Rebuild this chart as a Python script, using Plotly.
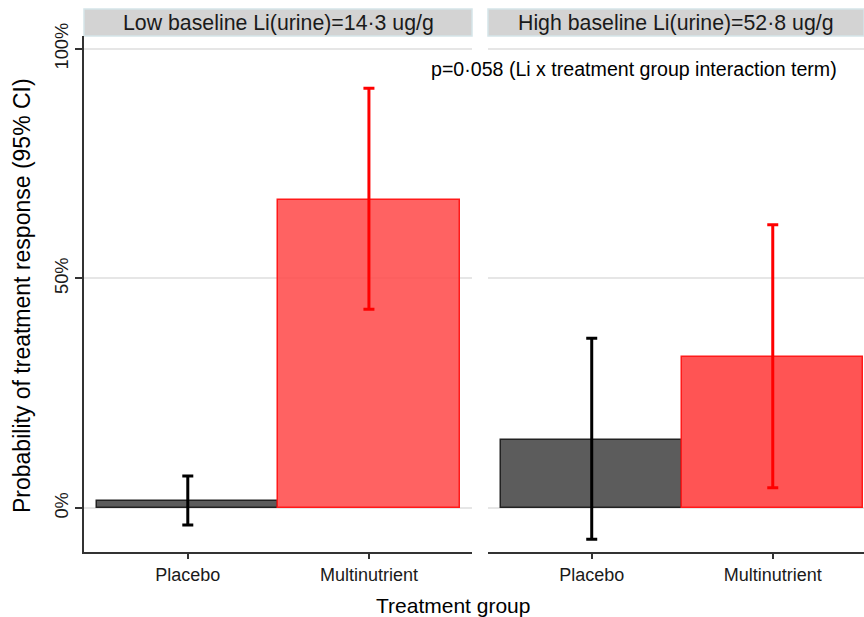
import plotly.graph_objects as go

groups = ["Placebo", "Multinutrient"]
panels = ["Low baseline Li(urine)=14·3 ug/g", "High baseline Li(urine)=52·8 ug/g"]
# probabilities (%) per panel: [placebo, multinutrient]
prob = [[1.5, 67.1], [14.9, 32.9]]
ci_low = [[-3.7, 43.3], [-6.8, 4.4]]
ci_high = [[7.0, 91.4], [37.0, 61.7]]
y_ticks = [0, 50, 100]
y_tick_labels = ["0%", "50%", "100%"]
annotation_text = "p=0·058 (Li x treatment group interaction term)"

fills = [["#5c5c5c", "rgba(255,70,70,0.85)"], ["#5c5c5c", "rgba(255,60,60,0.88)"]]
lines = ["#222222", "#ff1a1a"]
err_cols = ["#000000", "#ff0000"]

FONT = "Liberation Sans, Arial, Helvetica, sans-serif"
W, H = 864, 617

fig = go.Figure()
for p in range(2):
    xa = "x" if p == 0 else "x2"
    for g in range(2):
        v = prob[p][g]
        fig.add_trace(go.Bar(
            x=[groups[g]], y=[v], width=1.0,
            xaxis=xa, yaxis="y" if p == 0 else "y2",
            marker=dict(color=fills[p][g], line=dict(color=lines[g], width=1.5)),
            error_y=dict(type="data", symmetric=False,
                         array=[ci_high[p][g] - v], arrayminus=[v - ci_low[p][g]],
                         color=err_cols[g], thickness=3, width=5.5),
            showlegend=False, hoverinfo="skip",
        ))

ydom = [(617 - 551.7) / H, (617 - 36) / H]
yr = [-9.5, 102.8]
common_x = dict(type="category", categoryorder="array", categoryarray=groups,
                showline=True, linecolor="#333333", linewidth=1.5,
                ticks="outside", ticklen=6, tickcolor="#333333", tickwidth=1.5,
                tickfont=dict(family=FONT, size=18, color="#1a1a1a"),
                showgrid=False, zeroline=False, fixedrange=True, automargin=False)
fig.update_layout(
    template="none",
    width=W, height=H, autosize=False,
    margin=dict(l=0, r=0, t=0, b=0, pad=0, autoexpand=False),
    paper_bgcolor="white", plot_bgcolor="white",
    barmode="overlay", bargap=0,
    xaxis=dict(domain=[84 / W, 472 / W], range=[-0.573, 1.569], anchor="y", **common_x),
    xaxis2=dict(domain=[488 / W, 1.0], range=[-0.573, 1.504], anchor="y2", **common_x),
    yaxis=dict(domain=ydom, range=yr, anchor="x", automargin=False,
               tickvals=y_ticks, ticktext=y_tick_labels, tickangle=-90,
               showline=True, linecolor="#333333", linewidth=1.5,
               ticks="outside", ticklen=7, tickcolor="#333333", tickwidth=1.5,
               tickfont=dict(family=FONT, size=18.3, color="#1a1a1a"),
               showgrid=True, gridcolor="#e6e6e6", gridwidth=1.5,
               zeroline=False, fixedrange=True),
    yaxis2=dict(domain=ydom, range=yr, anchor="x2", matches="y", automargin=False,
                tickvals=y_ticks, showticklabels=False, showline=False, ticks="",
                showgrid=True, gridcolor="#e6e6e6", gridwidth=1.5,
                zeroline=False, fixedrange=True),
    font=dict(family=FONT, color="#1a1a1a"),
)

# facet strips
strip_y0 = (617 - 36) / H
strip_y1 = (617 - 9) / H
for x0, x1, txt in [(84 / W, 472 / W, panels[0]), (488 / W, 1.0, panels[1])]:
    fig.add_shape(type="rect", xref="paper", yref="paper", x0=x0, x1=x1,
                  y0=strip_y0, y1=strip_y1, fillcolor="#d3d3d3",
                  line=dict(color="#d5e5e9", width=1.5), layer="below")
    fig.add_annotation(xref="paper", yref="paper", x=(x0 + x1) / 2, y=(strip_y0 + strip_y1) / 2,
                       text=txt, showarrow=False, xanchor="center", yanchor="middle",
                       font=dict(family=FONT, size=21.3, color="#1a1a1a"))

fig.add_annotation(xref="paper", yref="paper", x=429 / W, y=(617 - 69) / H,
                   text=annotation_text, showarrow=False, xanchor="left", yanchor="middle",
                   font=dict(family=FONT, size=19.6, color="#000000"))

# axis titles
fig.add_annotation(xref="paper", yref="paper", x=453 / W, y=(617 - 605) / H,
                   text="Treatment group", showarrow=False, xanchor="center", yanchor="middle",
                   font=dict(family=FONT, size=21, color="#000000"))
fig.add_annotation(xref="paper", yref="paper", x=22 / W, y=(617 - 296) / H,
                   text="Probability of treatment response (95% CI)", showarrow=False,
                   textangle=-90, xanchor="center", yanchor="middle",
                   font=dict(family=FONT, size=23, color="#000000"))

post = ("document.documentElement.style.margin='0';document.body.style.margin='0';"
        "document.body.style.padding='0';document.body.style.overflow='hidden';"
        "var d=document.getElementById('{plot_id}');d.style.position='absolute';"
        "d.style.left='0px';d.style.top='0px';")
fig.write_html("out.html", post_script=post, config={"displayModeBar": False})
